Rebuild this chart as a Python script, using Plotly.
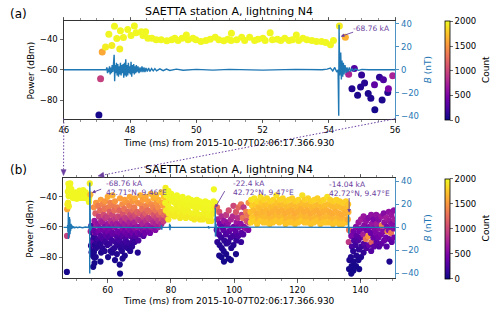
import plotly.graph_objects as go

# ---------------- data ----------------
# Panel (a) scatter: time (ms), power (dBm), count
A_TIME = [47.06, 47.11, 47.16, 47.26, 47.36, 47.45, 47.53, 47.60, 47.69, 47.71,
          47.80, 47.93, 48.03, 48.13, 48.18, 48.34, 48.39, 48.47, 48.54, 48.66,
          48.79, 48.94, 49.11, 49.26, 49.35, 49.45, 49.57, 49.70, 49.75, 49.90,
          49.99, 50.14, 50.29, 50.42, 50.57, 50.68, 50.83, 50.95, 51.06, 51.05,
          51.22, 51.37, 51.46, 51.61, 51.76, 51.86, 52.01, 52.08, 52.23, 52.30,
          52.45, 52.55, 52.67, 52.80, 52.90, 53.02, 53.09, 53.22, 53.34, 53.49,
          53.63, 53.78, 53.91, 54.05, 54.14, 54.32, 54.50, 54.60, 54.70, 54.77,
          54.87, 54.96, 54.99, 55.08, 55.19, 55.27, 55.38, 55.39, 55.53, 55.61,
          55.65, 55.78, 55.80, 55.93]
A_POWER = [-89.9, -66.0, -48.2, -45.0, -36.6, -43.9, -31.3, -39.4, -46.2, -34.2,
           -38.6, -33.4, -37.4, -31.1, -35.5, -34.8, -37.4, -34.8, -39.2, -39.2,
           -40.2, -40.2, -40.8, -40.2, -39.2, -40.6, -39.2, -37.0, -40.2, -39.2,
           -40.2, -41.3, -40.6, -39.8, -38.5, -40.2, -40.8, -39.8, -35.8, -40.6,
           -40.2, -38.5, -40.6, -38.5, -40.6, -39.8, -39.2, -40.6, -35.5, -40.2,
           -39.8, -40.6, -39.2, -40.6, -40.2, -37.0, -40.6, -39.2, -40.2, -40.6,
           -41.3, -41.3, -41.9, -43.4, -40.6, -31.1, -38.5, -63.0, -72.5, -59.2,
           -76.8, -71.4, -63.4, -68.8, -75.7, -78.9, -69.9, -86.5, -65.0, -80.0,
           -66.6, -75.0, -72.5, -63.9]
A_COUNT = [40, 950, 1600, 1950, 1980, 1950, 1990, 1980, 1950, 1990,
           1980, 1990, 1990, 1990, 1990, 1990, 1990, 1990, 1990, 1990,
           1990, 1990, 1990, 1990, 1990, 1990, 1990, 1990, 1990, 1990,
           1990, 1990, 1990, 1990, 1990, 1990, 1990, 1990, 1990, 1990,
           1990, 1990, 1990, 1990, 1990, 1990, 1990, 1990, 1990, 1990,
           1990, 1990, 1990, 1990, 1990, 1990, 1990, 1990, 1990, 1990,
           1990, 1990, 1990, 1990, 1990, 1950, 1650, 750, 80, 300,
           60, 80, 150, 100, 60, 70, 350, 40, 120, 60,
           250, 100, 500, 750]

# Panel (b): cluster after the first return stroke (55-79 ms)
S1_TIME = [55.6, 55.8, 55.5, 55.7, 55.9, 55.6, 55.8,
           56.3, 56.1, 56.4, 56.2, 56.5, 56.3, 56.2,
           57.0, 57.2, 56.9, 57.1, 57.0, 57.2,
           57.8, 57.6, 57.9, 57.7, 57.8, 57.6, 57.9, 57.7,
           58.5, 58.7, 58.4, 58.6, 58.5, 58.3,
           59.2, 59.0, 59.3, 59.1, 59.4, 59.2, 59.0,
           60.0, 60.2, 59.9, 60.1, 60.0, 60.2, 59.9, 60.1,
           60.8, 60.6, 60.9, 60.7, 60.8, 60.6, 60.9,
           61.5, 61.7, 61.4, 61.6, 61.5, 61.3, 61.6, 61.4,
           62.3, 62.1, 62.4, 62.2, 62.3, 62.5, 62.1, 62.3,
           63.0, 63.2, 62.9, 63.1, 63.0, 63.2, 62.9,
           63.9, 63.7, 64.0, 63.8, 63.9, 63.7, 64.0, 63.8, 63.9,
           64.6, 64.8, 64.5, 64.7, 64.6, 64.8, 64.5, 64.7,
           65.4, 65.2, 65.5, 65.3, 65.4, 65.6, 65.2, 65.4,
           66.2, 66.4, 66.1, 66.3, 66.2, 66.0, 66.3,
           67.0, 66.8, 67.1, 66.9, 67.0, 67.2, 66.9, 67.1,
           67.8, 68.0, 67.7, 67.9, 67.8, 68.0, 67.7,
           68.6, 68.4, 68.7, 68.5, 68.6, 68.8, 68.5,
           69.5, 69.3, 69.6, 69.4, 69.5, 69.7, 69.5,
           70.3, 70.5, 70.2, 70.4, 70.3, 70.1,
           71.1, 70.9, 71.2, 71.0, 71.1, 71.3,
           72.0, 72.2, 71.9, 72.1, 72.0, 71.8,
           72.8, 72.6, 72.9, 72.7, 73.0,
           73.6, 73.8, 73.5, 73.7, 73.6, 73.4,
           74.5, 74.3, 74.6, 74.4, 74.5,
           75.3, 75.5, 75.2, 75.4, 75.3, 75.1,
           76.1, 75.9, 76.2, 76.0, 76.1,
           77.0, 77.2, 76.9, 77.1, 77.0,
           77.8, 77.6, 77.9, 77.7,
           78.6, 78.4, 78.7]
S1_POWER = [-47, -56, -62, -67, -72, -77, -84,
            -44, -51, -59, -64, -70, -74, -80,
            -46, -53, -58, -63, -68, -73,
            -42, -49, -56, -61, -66, -71, -77, -83,
            -45, -52, -57, -62, -68, -74,
            -43, -48, -54, -60, -65, -70, -76,
            -40, -47, -53, -58, -63, -67, -72, -80,
            -44, -50, -56, -61, -66, -71, -76,
            -39, -46, -52, -58, -64, -69, -75, -77,
            -43, -49, -55, -60, -65, -70, -74, -82,
            -47, -53, -58, -63, -67, -72, -78,
            -41, -49, -54, -59, -64, -69, -74, -85, -91,
            -45, -51, -56, -61, -66, -71, -76, -81,
            -42, -48, -54, -58, -63, -68, -73, -79,
            -44, -50, -55, -60, -65, -70, -74,
            -40, -46, -52, -57, -62, -66, -71, -76,
            -43, -49, -54, -59, -64, -69, -73,
            -41, -47, -52, -57, -61, -66, -70,
            -44, -50, -55, -60, -64, -69, -77,
            -39, -45, -51, -56, -60, -65,
            -42, -48, -53, -58, -62, -66,
            -40, -46, -51, -56, -61, -64,
            -43, -49, -54, -59, -62,
            -38, -45, -50, -55, -60, -64,
            -41, -47, -52, -57, -61,
            -39, -44, -49, -54, -58, -62,
            -42, -47, -52, -56, -60,
            -37, -44, -50, -55, -58,
            -40, -46, -52, -56,
            -43, -49, -54]
S1_COUNT = [1450, 650, 400, 150, 80, 60, 40,
            1500, 1150, 700, 350, 150, 100, 60,
            1350, 950, 600, 450, 200, 100,
            1550, 1250, 800, 500, 300, 120, 70, 40,
            1400, 1050, 700, 450, 250, 120,
            1500, 1300, 900, 550, 350, 180, 90,
            1600, 1350, 950, 650, 450, 280, 150, 60,
            1400, 1150, 850, 500, 300, 160, 100,
            1650, 1350, 1000, 700, 400, 200, 110, 80,
            1500, 1250, 900, 600, 380, 190, 120, 50,
            1350, 1000, 700, 450, 280, 150, 80,
            1550, 1200, 950, 650, 420, 220, 130, 40, 20,
            1450, 1100, 800, 550, 330, 170, 100, 60,
            1550, 1300, 950, 700, 450, 250, 140, 70,
            1500, 1200, 900, 650, 400, 200, 120,
            1600, 1400, 1050, 750, 500, 330, 170, 90,
            1500, 1250, 950, 650, 420, 220, 130,
            1600, 1350, 1050, 750, 550, 300, 170,
            1500, 1200, 900, 650, 450, 250, 80,
            1650, 1450, 1150, 850, 600, 380,
            1550, 1300, 1000, 750, 500, 320,
            1600, 1400, 1150, 850, 600, 420,
            1550, 1250, 950, 700, 500,
            1700, 1450, 1250, 900, 650, 450,
            1650, 1400, 1100, 800, 600,
            1700, 1500, 1300, 1000, 750, 550,
            1650, 1450, 1150, 900, 700,
            1800, 1600, 1350, 1050, 800,
            1750, 1550, 1250, 950,
            1700, 1450, 1150]

# Panel (b): yellow band 78-94 ms
S2_TIME = [78.3, 78.5, 78.2, 78.4,
           79.2, 79.4, 79.1, 79.3, 79.2,
           80.1, 80.3, 80.0, 80.2,
           81.0, 81.2, 80.9, 81.1,
           81.9, 82.1, 81.8, 82.0,
           82.8, 83.0, 82.7, 82.9,
           83.7, 83.9, 83.6, 83.8,
           84.6, 84.8, 84.5, 84.7,
           85.5, 85.7, 85.4, 85.6,
           86.4, 86.6, 86.3, 86.5,
           87.3, 87.5, 87.2, 87.4,
           88.2, 88.4, 88.1, 88.3,
           89.1, 89.3, 89.0, 89.2,
           90.0, 90.2, 89.9, 90.1,
           90.9, 91.1, 90.8, 91.0,
           91.8, 92.0, 91.7, 91.9,
           92.7, 92.9, 92.6, 92.8,
           93.6, 93.5, 93.7, 93.4,
           94.0, 94.1]
S2_POWER = [-34, -39, -44, -49,
            -36, -41, -46, -51, -55,
            -38, -43, -48, -52,
            -40, -44, -49, -53,
            -39, -43, -47, -51,
            -41, -45, -50, -54,
            -40, -44, -48, -52,
            -42, -46, -50, -54,
            -41, -45, -49, -53,
            -42, -46, -51, -54,
            -43, -47, -51, -55,
            -42, -46, -50, -54,
            -43, -47, -52, -55,
            -44, -48, -52, -55,
            -43, -47, -51, -54,
            -44, -48, -52, -56,
            -45, -49, -53, -56,
            -35, -43, -47, -51,
            -44, -48]
S2_COUNT = [1950, 1990, 1970, 1930,
            1990, 1980, 1960, 1940, 1920,
            1990, 1980, 1960, 1930,
            1990, 1980, 1960, 1940,
            1990, 1980, 1960, 1940,
            1990, 1980, 1960, 1930,
            1990, 1980, 1960, 1940,
            1990, 1980, 1960, 1940,
            1990, 1980, 1960, 1930,
            1990, 1980, 1960, 1940,
            1990, 1980, 1960, 1930,
            1990, 1980, 1960, 1940,
            1990, 1980, 1960, 1930,
            1990, 1980, 1960, 1930,
            1990, 1980, 1960, 1940,
            1990, 1980, 1960, 1930,
            1990, 1980, 1960, 1930,
            1990, 1980, 1960, 1940,
            1980, 1960]

# Panel (b): cluster after the -22.4 kA stroke (94.5-105 ms)
S3_TIME = [94.6, 94.8, 94.5, 94.7,
           95.3, 95.5, 95.2, 95.4, 95.3,
           96.0, 96.2, 95.9, 96.1, 96.0,
           96.8, 96.6, 96.9, 96.7, 96.8,
           97.5, 97.7, 97.4, 97.6, 97.5,
           98.3, 98.1, 98.4, 98.2, 98.3,
           99.0, 99.2, 98.9, 99.1, 99.0,
           99.8, 99.6, 99.9, 99.7, 99.8,
           100.6, 100.8, 100.5, 100.7, 100.6,
           101.4, 101.2, 101.5, 101.3,
           102.2, 102.4, 102.1, 102.3, 102.2,
           103.0, 102.8, 103.1, 102.9,
           103.8, 104.0, 103.7,
           104.6, 104.4, 104.7, 104.5]
S3_POWER = [-47, -55, -62, -70,
            -50, -58, -65, -72, -79,
            -53, -60, -67, -74, -80,
            -56, -62, -69, -76, -83,
            -52, -59, -65, -71, -78,
            -49, -57, -63, -70, -81,
            -55, -61, -67, -74, -82,
            -46, -53, -60, -66, -72,
            -50, -57, -63, -69, -78,
            -47, -54, -60, -66,
            -45, -52, -58, -64, -70,
            -47, -54, -60, -65,
            -50, -56, -61,
            -44, -52, -57, -62]
S3_COUNT = [1300, 700, 350, 120,
            1100, 500, 250, 90, 50,
            800, 400, 180, 80, 40,
            650, 350, 150, 70, 30,
            900, 500, 250, 110, 50,
            1050, 600, 320, 140, 40,
            750, 420, 200, 80, 40,
            1000, 800, 450, 230, 100,
            1100, 650, 350, 160, 50,
            1200, 850, 500, 250,
            1300, 950, 600, 330, 160,
            900, 1300, 550, 300,
            1400, 1100, 600,
            1500, 1300, 1000, 500]

# Panel (b): orange band 105-136 ms
S4_TIME = [105.4, 105.7, 105.2, 105.6, 105.3,
           106.4, 106.7, 106.2, 106.6, 106.3,
           107.4, 107.7, 107.2, 107.6, 107.3,
           108.4, 108.7, 108.2, 108.6, 108.3,
           109.4, 109.7, 109.2, 109.6, 109.3,
           110.4, 110.7, 110.2, 110.6, 110.3,
           111.4, 111.7, 111.2, 111.6, 111.3,
           112.4, 112.7, 112.2, 112.6, 112.3,
           113.4, 113.7, 113.2, 113.6, 113.3,
           114.4, 114.7, 114.2, 114.6, 114.3,
           115.4, 115.7, 115.2, 115.6, 115.3,
           116.4, 116.7, 116.2, 116.6, 116.3,
           117.4, 117.7, 117.2, 117.6, 117.3,
           118.4, 118.7, 118.2, 118.6, 118.3,
           119.4, 119.7, 119.2, 119.6, 119.3,
           120.4, 120.7, 120.2, 120.6, 120.3,
           121.6, 121.7, 121.2, 121.6, 121.3,
           122.4, 122.7, 122.2, 122.6, 122.3,
           123.4, 123.7, 123.2, 123.6, 123.3,
           124.4, 124.7, 124.2, 124.6, 124.3,
           125.4, 125.7, 125.2, 125.6, 125.3,
           126.4, 126.7, 126.2, 126.6, 126.3,
           127.4, 127.7, 127.2, 127.6, 127.3,
           128.4, 128.7, 128.2, 128.6, 128.3,
           129.5, 129.7, 129.2, 129.6, 129.3,
           130.4, 130.7, 130.2, 130.6, 130.3,
           131.4, 131.7, 131.2, 131.6, 131.3,
           132.4, 132.7, 132.2, 132.6, 132.3,
           133.4, 133.7, 133.2, 133.6, 133.3,
           134.4, 134.7, 134.2, 134.6, 134.3,
           135.4, 135.7, 135.2, 135.6, 135.3,
           136.1, 136.2, 136.0]
S4_POWER = [-42, -46, -50, -54, -57,
            -41, -45, -49, -53, -56,
            -43, -47, -51, -55, -58,
            -40, -44, -48, -52, -56,
            -42, -46, -50, -54, -57,
            -41, -45, -49, -53, -57,
            -43, -47, -51, -55, -58,
            -42, -46, -50, -54, -57,
            -39, -44, -48, -52, -56,
            -42, -46, -50, -54, -57,
            -41, -45, -49, -53, -56,
            -43, -47, -51, -55, -58,
            -42, -46, -50, -54, -57,
            -41, -45, -49, -53, -57,
            -43, -47, -51, -55, -58,
            -42, -46, -50, -54, -57,
            -39, -44, -48, -52, -56,
            -42, -46, -50, -54, -57,
            -41, -45, -49, -53, -57,
            -43, -47, -51, -55, -58,
            -42, -46, -50, -54, -57,
            -41, -45, -49, -53, -56,
            -43, -47, -51, -55, -58,
            -42, -46, -50, -54, -57,
            -40, -45, -49, -53, -57,
            -42, -46, -50, -54, -57,
            -43, -47, -51, -55, -58,
            -42, -46, -50, -54, -57,
            -43, -47, -51, -55, -58,
            -44, -48, -52, -56, -58,
            -43, -47, -51, -55, -57,
            -45, -50, -55]
S4_COUNT = [1880, 1800, 1720, 1760, 1820,
            1900, 1780, 1700, 1740, 1800,
            1850, 1720, 1660, 1700, 1780,
            1880, 1760, 1700, 1680, 1780,
            1820, 1720, 1660, 1700, 1760,
            1840, 1740, 1680, 1690, 1760,
            1800, 1700, 1640, 1690, 1760,
            1820, 1720, 1650, 1680, 1750,
            1880, 1740, 1660, 1690, 1770,
            1800, 1700, 1640, 1680, 1750,
            1820, 1720, 1650, 1690, 1760,
            1790, 1700, 1630, 1670, 1740,
            1820, 1710, 1640, 1680, 1750,
            1800, 1700, 1640, 1670, 1740,
            1790, 1690, 1620, 1670, 1740,
            1820, 1710, 1640, 1680, 1750,
            1880, 1720, 1650, 1690, 1760,
            1800, 1700, 1630, 1670, 1740,
            1820, 1710, 1640, 1680, 1750,
            1790, 1690, 1620, 1670, 1740,
            1820, 1710, 1640, 1680, 1750,
            1800, 1700, 1630, 1670, 1740,
            1790, 1690, 1620, 1670, 1740,
            1820, 1710, 1640, 1680, 1750,
            1880, 1720, 1650, 1690, 1760,
            1800, 1700, 1630, 1670, 1740,
            1790, 1690, 1620, 1670, 1740,
            1820, 1710, 1640, 1680, 1750,
            1800, 1700, 1630, 1670, 1740,
            1790, 1690, 1620, 1670, 1730,
            1800, 1700, 1640, 1680, 1740,
            1750, 1650, 1600]

# Panel (b): cluster after the -14.04 kA stroke (136-151 ms)
S5_TIME = [136.4, 136.3, 136.5, 136.4,
           137.1, 137.3, 137.0, 137.2, 137.1,
           137.8, 138.0, 137.7, 137.9, 137.8,
           138.6, 138.8, 138.5, 138.7, 138.6,
           139.4, 139.6, 139.3, 139.5, 139.4, 139.6,
           140.2, 140.4, 140.1, 140.3, 140.2,
           141.0, 141.2, 140.9, 141.1, 141.0,
           141.8, 142.0, 141.7, 141.9,
           142.6, 142.8, 142.5, 142.7,
           143.4, 143.6, 143.3, 143.5, 143.4,
           144.2, 144.4, 144.1, 144.3,
           145.0, 145.2, 144.9, 145.1,
           145.8, 146.0, 145.7, 145.9,
           146.6, 146.8, 146.5, 146.7,
           147.4, 147.6, 147.3, 147.5,
           148.2, 148.4, 148.6, 148.1, 148.3,
           149.0, 149.2, 148.9, 149.1, 149.2,
           149.8, 150.0, 149.7, 149.9,
           150.6, 150.8, 150.5, 150.7]
S5_POWER = [-62, -70, -82, -88,
            -66, -73, -80, -86, -91,
            -63, -69, -76, -83, -89,
            -60, -66, -72, -79, -86,
            -57, -63, -69, -75, -82, -88,
            -55, -61, -67, -73, -80,
            -53, -59, -65, -71, -77,
            -56, -62, -68, -74,
            -54, -60, -66, -72,
            -52, -58, -64, -70, -76,
            -55, -61, -67, -73,
            -52, -58, -64, -70,
            -55, -61, -67, -73,
            -53, -59, -65, -71,
            -51, -57, -63, -69,
            -54, -60, -63, -67, -73,
            -50, -56, -62, -68, -83,
            -52, -58, -64, -70,
            -49, -55, -61, -67]
S5_COUNT = [1300, 900, 60, 30,
            500, 250, 80, 40, 20,
            450, 250, 120, 50, 30,
            550, 350, 200, 90, 40,
            650, 450, 280, 150, 60, 30,
            700, 500, 350, 180, 80,
            650, 550, 700, 300, 150,
            600, 450, 1300, 250,
            550, 500, 1500, 400,
            600, 650, 400, 1200, 300,
            500, 550, 400, 350,
            600, 700, 500, 350,
            550, 600, 450, 300,
            650, 1400, 500, 350,
            550, 600, 550, 400,
            700, 500, 1500, 450, 300,
            600, 650, 550, 400, 60,
            650, 550, 1300, 350,
            600, 700, 550, 450]

# Magnetic field waveform: time (ms), B (nT)
W_TIME = [46.0, 46.5, 47.0, 47.28, 47.30, 47.32, 47.34, 47.36, 47.38, 47.40,
          47.42, 47.44, 47.46, 47.48, 47.50, 47.52, 47.535, 47.55, 47.57, 47.59,
          47.61, 47.63, 47.65, 47.67, 47.69, 47.71, 47.73, 47.75, 47.77, 47.79,
          47.81, 47.83, 47.85, 47.87, 47.89, 47.91, 47.93, 47.95, 47.97, 47.99,
          48.01, 48.03, 48.05, 48.07, 48.09, 48.11, 48.13, 48.15, 48.17, 48.19,
          48.21, 48.24, 48.27, 48.30, 48.33, 48.36, 48.39, 48.42, 48.45, 48.48,
          48.52, 48.56, 48.60, 48.65, 48.70, 48.75, 48.80, 48.90, 49.00, 49.10,
          49.20, 49.40, 49.60, 50.0, 50.5, 51.0, 52.0, 53.0, 53.8, 53.95,
          54.05, 54.12, 54.18, 54.24, 54.28, 54.30, 54.31, 54.33, 54.36, 54.38,
          54.40, 54.42, 54.44, 54.46, 54.49, 54.52, 54.55, 54.58, 54.62, 54.66,
          54.70, 54.75, 54.80, 54.90, 55.0, 55.2, 60.0, 70.0, 76.9, 77.0,
          77.1, 77.2, 79.5, 79.6, 79.7, 79.8, 79.9, 91.8, 91.9, 92.0,
          92.1, 94.0, 94.05, 94.1, 94.15, 94.2, 94.3, 94.4, 94.5, 110.0,
          136.2, 136.25, 136.3, 136.35, 136.4, 136.5, 151.0]
W_B = [0.0, 0.2, -0.2, 0.0, 2.0, -3.0, 1.0, -2.0, 3.0, -4.0,
       2.0, -3.0, 4.0, -2.0, 5.0, 13.0, -10.0, 4.0, -3.0, 6.0,
       -5.0, 5.0, -6.0, 3.0, -4.0, 6.0, -5.0, 4.0, -3.0, 5.0,
       -7.0, 6.0, -5.0, 9.0, -6.0, 4.0, -5.0, 6.0, -3.0, 3.0,
       -4.0, 7.0, -6.0, 4.0, -3.0, 5.0, -4.0, 3.0, -3.0, 4.0,
       -2.0, 3.0, -3.0, 2.0, -2.0, 3.0, -2.0, 2.0, -2.0, 1.5,
       -1.5, 1.5, -1.5, 1.0, -1.0, 1.0, -1.0, 0.8, -0.8, 0.6,
       -0.6, 0.5, -0.4, 0.3, -0.3, 0.3, -0.3, 0.3, 0.0, 0.5,
       1.5, -1.0, 2.0, -2.0, 0.0, -40.0, 39.0, -5.0, 15.0, -8.5,
       8.0, -6.0, 6.0, -4.0, 4.0, -3.0, 2.0, -2.0, 2.0, -1.5,
       1.0, -1.0, 0.8, -0.5, 0.3, 0.0, 0.2, -0.2, 0.0, 2.0,
       -2.0, 0.0, 0.0, 3.0, -2.5, 2.0, 0.0, 0.0, 1.0, -1.0,
       0.0, 0.0, 17.0, -8.0, 8.0, -5.0, 3.0, -2.0, 0.0, 0.2,
       0.0, 11.0, -5.5, 9.0, -4.0, 0.0, 0.0]

# Annotation texts
STROKE_CURRENT = ["-68.76 kA", "-22.4 kA", "-14.04 kA"]
STROKE_POSITION = ["42.71°N, 9.46°E", "42.72°N, 9.47°E", "42.72°N, 9.47°E"]
TITLE = "SAETTA station A, lightning N4"
XLABEL = "Time (ms) from 2015-10-07T02:06:17.366.930"

# ---------------- layout geometry ----------------
W, H = 500, 313
FONT = "DejaVu Sans"
BLUE = "#1f77b4"
PURPLE = "#6b3fa0"
TICK_SIZE = 8.5

A_L, A_R, A_T, A_B = 60.0, 398.0, 19.3, 118.3
B_L, B_R, B_T, B_B = 59.3, 398.0, 178.3, 280.0
A_XR, A_YR, A_Y2R = [46, 56], [-92.4, -27.8], [-42.6, 42.3]
B_XR, B_YR, B_Y2R = [45.87, 150.96], [-94.2, -27.5], [-44.3, 42.8]


def px(x):
    return x / W


def py(y):
    return 1 - y / H


def a_xpix(t):
    return A_L + (t - A_XR[0]) / (A_XR[1] - A_XR[0]) * (A_R - A_L)


def b_xpix(t):
    return B_L + (t - B_XR[0]) / (B_XR[1] - B_XR[0]) * (B_R - B_L)


fig = go.Figure()

fig.add_trace(go.Scatter(x=A_TIME, y=A_POWER, mode="markers",
                         marker=dict(size=7, color=A_COUNT, coloraxis="coloraxis",
                                     line=dict(width=0)),
                         xaxis="x", yaxis="y", showlegend=False))
fig.add_trace(go.Scatter(x=W_TIME, y=W_B, mode="lines", line=dict(color=BLUE, width=1.4),
                         xaxis="x", yaxis="y2", showlegend=False))

B_TIME = A_TIME + S1_TIME + S2_TIME + S3_TIME + S4_TIME + S5_TIME
B_POWER = A_POWER + S1_POWER + S2_POWER + S3_POWER + S4_POWER + S5_POWER
B_COUNT = A_COUNT + S1_COUNT + S2_COUNT + S3_COUNT + S4_COUNT + S5_COUNT
fig.add_trace(go.Scatter(x=B_TIME, y=B_POWER, mode="markers",
                         marker=dict(size=6.2, color=B_COUNT, coloraxis="coloraxis2",
                                     line=dict(width=0)),
                         xaxis="x2", yaxis="y3", showlegend=False))
fig.add_trace(go.Scatter(x=W_TIME, y=W_B, mode="lines", line=dict(color=BLUE, width=1.4),
                         xaxis="x2", yaxis="y4", showlegend=False))

tick_common = dict(ticks="outside", ticklen=3.5, tickwidth=0.8, showgrid=False,
                   zeroline=False, showline=True, linewidth=0.8,
                   tickfont=dict(family=FONT, size=TICK_SIZE, color="black"))


def minus(v):
    return str(v).replace("-", "\u2212")


pow_ticks = [-80, -60, -40]
b_ticks = [-40, -20, 0, 20, 40]

cb_common = dict(thickness=5, xpad=0, ypad=0, outlinewidth=0.8, outlinecolor="black",
                 tickvals=[0, 500, 1000, 1500, 2000], ticks="outside", ticklen=3,
                 tickwidth=0.8, tickfont=dict(family=FONT, size=TICK_SIZE, color="black"),
                 x=px(449), xanchor="left", lenmode="fraction")

right_axis = dict(side="right", ticks="outside", ticklen=3.5, tickwidth=0.8, tickcolor=BLUE,
                  showgrid=False, zeroline=False, showline=True, linewidth=0.8,
                  linecolor=BLUE, tickvals=b_ticks, ticktext=[minus(v) for v in b_ticks],
                  tickfont=dict(family=FONT, size=TICK_SIZE, color=BLUE))

fig.update_layout(
    width=W, height=H, margin=dict(l=0, r=0, t=0, b=0),
    paper_bgcolor="white", plot_bgcolor="white",
    font=dict(family=FONT, size=9, color="black"),
    xaxis=dict(domain=[px(A_L), px(A_R)], range=A_XR, anchor="y",
               tickvals=[46, 48, 50, 52, 54, 56], linecolor="black", mirror="ticks",
               minor=dict(ticks="outside", ticklen=2, tickwidth=0.6, dtick=0.5, tick0=46),
               **tick_common),
    yaxis=dict(domain=[py(A_B), py(A_T)], range=A_YR, anchor="x",
               tickvals=pow_ticks, ticktext=[minus(v) for v in pow_ticks],
               linecolor="black", **tick_common),
    yaxis2=dict(overlaying="y", anchor="x", range=A_Y2R, **right_axis),
    xaxis2=dict(domain=[px(B_L), px(B_R)], range=B_XR, anchor="y3",
                tickvals=[60, 80, 100, 120, 140], linecolor="black", mirror="ticks",
                minor=dict(ticks="outside", ticklen=2, tickwidth=0.6, dtick=5, tick0=45),
                **tick_common),
    yaxis3=dict(domain=[py(B_B), py(B_T)], range=B_YR, anchor="x2",
                tickvals=pow_ticks, ticktext=[minus(v) for v in pow_ticks],
                linecolor="black", **tick_common),
    yaxis4=dict(overlaying="y3", anchor="x2", range=B_Y2R, **right_axis),
    coloraxis=dict(colorscale="Plasma", cmin=0, cmax=2000,
                   colorbar=dict(y=py((A_T + 120) / 2), yanchor="middle",
                                 len=(120 - A_T) / H, **cb_common)),
    coloraxis2=dict(colorscale="Plasma", cmin=0, cmax=2000,
                    colorbar=dict(y=py((179 + B_B) / 2), yanchor="middle",
                                  len=(B_B - 179) / H, **cb_common)),
)

ann = []


def text_px(text, x, y, size=9, color="black", angle=0, xanchor="center"):
    ann.append(dict(text=text, x=px(x), y=py(y), xref="paper", yref="paper",
                    showarrow=False, textangle=angle, xanchor=xanchor, yanchor="middle",
                    font=dict(family=FONT, size=size, color=color)))


cx = (A_L + A_R) / 2
text_px(TITLE, cx, 10, size=11)
text_px(TITLE, cx, 169.5, size=11)
text_px("(a)", 3, 12, size=12, xanchor="left")
text_px("(b)", 3, 170, size=12, xanchor="left")
text_px(XLABEL, cx, 143)
text_px(XLABEL, cx, 303)
for top, bot in [(A_T, A_B), (B_T, B_B)]:
    mid = (top + bot) / 2
    text_px("Power (dBm)", 26, mid, angle=-90)
    text_px("<i>B</i> (nT)", 432, mid, angle=-90, color=BLUE)
    text_px("Count", 491, mid, angle=-90)


def text_data(text, t, p, xr, yr):
    ann.append(dict(text=text, x=t, y=p, xref=xr, yref=yr, showarrow=False,
                    xanchor="left", yanchor="middle",
                    font=dict(family=FONT, size=7.5, color=PURPLE)))


def arrow_data(t0, p0, t1, p1, xr, yr):
    ann.append(dict(text="", x=t1, y=p1, ax=t0, ay=p0, xref=xr, yref=yr,
                    axref=xr, ayref=yr, showarrow=True, arrowhead=2, arrowsize=0.8,
                    arrowwidth=0.9, arrowcolor=PURPLE, standoff=0, startstandoff=0))


text_data(STROKE_CURRENT[0], 54.67, -32.8, "x", "y")
arrow_data(54.78, -34.8, 54.36, -38.0, "x", "y")
text_data(STROKE_CURRENT[0], 58.8, -30.9, "x2", "y3")
text_data(STROKE_POSITION[0], 58.8, -36.8, "x2", "y3")
arrow_data(58.4, -34.5, 55.0, -37.3, "x2", "y3")
text_data(STROKE_CURRENT[1], 98.9, -30.9, "x2", "y3")
text_data(STROKE_POSITION[1], 98.9, -36.8, "x2", "y3")
arrow_data(97.3, -35.2, 94.0, -47.2, "x2", "y3")
text_data(STROKE_CURRENT[2], 129.3, -31.6, "x2", "y3")
text_data(STROKE_POSITION[2], 129.3, -37.5, "x2", "y3")
arrow_data(136.43, -39.8, 136.43, -50.5, "x2", "y3")

fig.update_layout(annotations=ann)

shapes = []


def connector(x0, y0, x1, y1, shrink=3.0, head_len=6.0, head_w=2.6):
    dx, dy = x1 - x0, y1 - y0
    n = (dx * dx + dy * dy) ** 0.5
    ux, uy = dx / n, dy / n
    tx, ty = x1 - ux * shrink, y1 - uy * shrink
    bx, by = tx - ux * head_len, ty - uy * head_len
    shapes.append(dict(type="line", xref="paper", yref="paper",
                       x0=px(x0), y0=py(y0), x1=px(bx), y1=py(by),
                       line=dict(color=PURPLE, width=1, dash="1.5px,1.8px")))
    pts = [(tx, ty), (bx - uy * head_w, by + ux * head_w), (bx + uy * head_w, by - ux * head_w)]
    path = "M " + " L ".join(f"{px(a):.5f},{py(b):.5f}" for a, b in pts) + " Z"
    shapes.append(dict(type="path", xref="paper", yref="paper", path=path,
                       fillcolor=PURPLE, line=dict(color=PURPLE, width=0.5)))


connector(a_xpix(A_XR[0]), A_B, b_xpix(A_XR[0]), B_T - 0.5, shrink=2.0)
connector(a_xpix(A_XR[1]), A_B, b_xpix(A_XR[1]), B_T - 1.5, shrink=3.0)
fig.update_layout(shapes=shapes)

# the page's default body margin would shift and clip the 500x313 figure
fig.write_html("out.html",
               config={"displayModeBar": False, "staticPlot": True},
               post_script="document.body.style.margin='0px';"
                           "document.body.style.overflow='hidden';")
